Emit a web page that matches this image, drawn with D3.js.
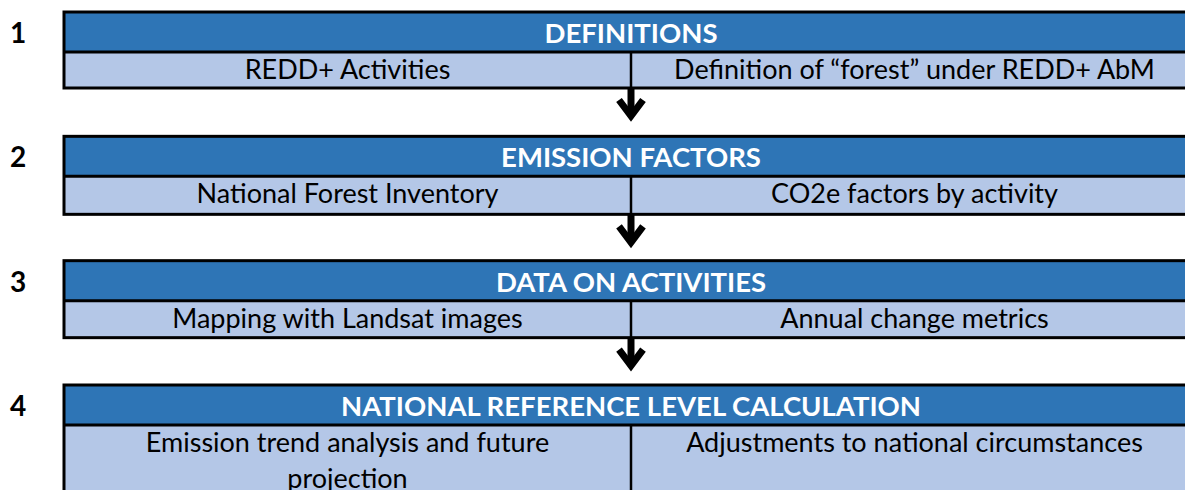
<!DOCTYPE html>
<html>
<head>
<meta charset="utf-8">
<script src="https://cdn.jsdelivr.net/npm/d3@7"></script>
<style>
  body { margin: 0; background: #fff; }
  svg { display: block; }
  text { font-family: Lato, "Open Sans", sans-serif; }
</style>
</head>
<body>
<svg width="1185" height="490"></svg>
<script>
var svg = d3.select("svg"),
    width = +svg.attr("width"),
    height = +svg.attr("height");

// step numbers and header titles
var stepNums = ["1", "2", "3", "4"];
var headers = ["DEFINITIONS", "EMISSION FACTORS", "DATA ON ACTIVITIES",
  "NATIONAL REFERENCE LEVEL CALCULATION"];

// cell contents, one entry per text line
var leftCells = [["REDD+ Activities"], ["National Forest Inventory"],
  ["Mapping with Landsat images"], ["Emission trend analysis and future", "projection"]];
var rightCells = [["Definition of \u201cforest\u201d under REDD+ AbM"], ["CO2e factors by activity"],
  ["Annual change metrics"], ["Adjustments to national circumstances"]];

var headerH = 40, cellH = [36, 38, 37, 90];

var y = d3.scaleLinear()
    .domain([0, stepNums.length - 1])
    .range([12, 385]);

var x = d3.scaleBand()
    .domain(["left", "right"])
    .range([64, 1198]);

var steps = svg.selectAll("g.step")
  .data(stepNums)
  .enter().append("g")
    .attr("class", "step")
    .attr("transform", function(d, i) { return "translate(0," + y(i) + ")"; });

// number on the left
steps.append("text")
    .attr("x", 18)
    .attr("y", 31)
    .attr("text-anchor", "middle")
    .attr("font-size", 28)
    .attr("font-weight", "bold")
    .attr("fill", "#000")
    .text(function(d) { return d; });

// header band
steps.append("rect")
    .attr("x", x("left"))
    .attr("y", 0)
    .attr("width", x.bandwidth() * 2)
    .attr("height", headerH)
    .attr("fill", "#2e75b6");

steps.append("text")
    .attr("x", x("right"))
    .attr("y", 31)
    .attr("text-anchor", "middle")
    .attr("font-size", 27.5)
    .attr("font-weight", "bold")
    .attr("fill", "#fff")
    .text(function(d, i) { return headers[i]; });

// cells
steps.append("rect")
    .attr("x", x("left"))
    .attr("y", headerH)
    .attr("width", x.bandwidth() * 2)
    .attr("height", function(d, i) { return cellH[i]; })
    .attr("fill", "#b4c7e7");

function cellText(sel, col, cells) {
  sel.append("text")
      .attr("text-anchor", "middle")
      .attr("font-size", 27)
      .attr("fill", "#000")
    .selectAll("tspan")
    .data(function(d, i) { return cells[i]; })
    .enter().append("tspan")
      .attr("x", x(col) + x.bandwidth() / 2)
      .attr("y", function(t, j) { return headerH + 27 + j * 36; })
      .text(function(t) { return t; });
}
cellText(steps, "left", leftCells);
cellText(steps, "right", rightCells);

// borders
steps.append("rect")
    .attr("x", x("left"))
    .attr("y", 0)
    .attr("width", x.bandwidth() * 2)
    .attr("height", function(d, i) { return headerH + cellH[i]; })
    .attr("fill", "none")
    .attr("stroke", "#000")
    .attr("stroke-width", 3);

steps.append("line")
    .attr("x1", x("left"))
    .attr("x2", x("left") + x.bandwidth() * 2)
    .attr("y1", headerH)
    .attr("y2", headerH)
    .attr("stroke", "#000")
    .attr("stroke-width", 3);

steps.append("line")
    .attr("x1", x("right"))
    .attr("x2", x("right"))
    .attr("y1", headerH)
    .attr("y2", function(d, i) { return headerH + cellH[i]; })
    .attr("stroke", "#000")
    .attr("stroke-width", 2.5);

// arrows between steps
var ax = x("right");
svg.selectAll("g.arrow")
  .data(stepNums.slice(0, -1))
  .enter().append("g")
    .attr("class", "arrow")
    .attr("transform", function(d, i) { return "translate(" + ax + "," + (y(i) + headerH + cellH[i]) + ")"; })
  .each(function() {
    var g = d3.select(this);
    g.append("line")
        .attr("x1", 0).attr("x2", 0)
        .attr("y1", 0).attr("y2", 28)
        .attr("stroke", "#000")
        .attr("stroke-width", 7);
    g.append("path")
        .attr("d", "M-12,12L0,28L12,12")
        .attr("fill", "none")
        .attr("stroke", "#000")
        .attr("stroke-width", 7)
        .attr("stroke-linejoin", "miter")
        .attr("stroke-miterlimit", 10);
  });
</script>
</body>
</html>
